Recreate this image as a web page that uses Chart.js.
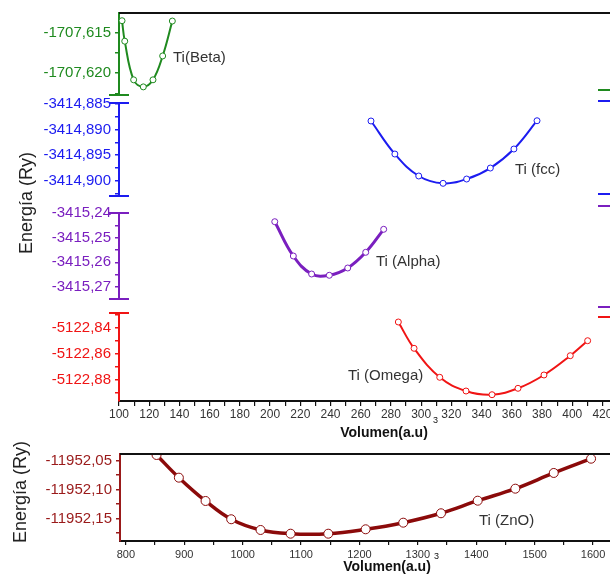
<!DOCTYPE html>
<html>
<head>
<meta charset="utf-8">
<script src="https://cdn.jsdelivr.net/npm/chart.js@4.4.1/dist/chart.umd.min.js"></script>
<style>
  html, body { margin: 0; padding: 0; background: #fff; overflow: hidden; width: 610px; height: 574px; }
  canvas { position: absolute; left: 0; top: 0; }
</style>
</head>
<body>
<canvas id="beta" width="640" height="574"></canvas>
<canvas id="fcc" width="640" height="574"></canvas>
<canvas id="alpha" width="640" height="574"></canvas>
<canvas id="omega" width="640" height="574"></canvas>
<canvas id="zno" width="640" height="574"></canvas>
<script>
// --- data ---
const betaVolume = [102.0, 103.8, 109.7, 116.1, 122.5, 128.9, 135.3];
const betaEnergy = [-1707.61355, -1707.61607, -1707.62083, -1707.62170, -1707.62083, -1707.61789, -1707.61359];

const fccVolume = [266.8, 282.6, 298.4, 314.5, 330.1, 345.8, 361.4, 376.7];
const fccEnergy = [-3414.88832, -3414.89478, -3414.89908, -3414.90051, -3414.89967, -3414.89752, -3414.89380, -3414.88827];

const alphaVolume = [203.1, 215.4, 227.5, 239.2, 251.4, 263.3, 275.2];
const alphaEnergy = [-3415.24353, -3415.25743, -3415.26473, -3415.26525, -3415.26229, -3415.25593, -3415.24661];

const omegaVolume = [284.9, 295.3, 312.3, 329.7, 346.9, 364.1, 381.3, 398.7, 410.2];
const omegaEnergy = [-5122.83538, -5122.85562, -5122.87792, -5122.88846, -5122.89131, -5122.88638, -5122.87615, -5122.86131, -5122.84977];

const znoVolume = [852.6, 890.8, 936.5, 980.4, 1030.7, 1082.1, 1146.6, 1210.6, 1275.0, 1339.6, 1402.5, 1466.9, 1532.7, 1596.6];
const znoEnergy = [-11952.0402, -11952.0793, -11952.1195, -11952.1510, -11952.1695, -11952.1759, -11952.1759, -11952.1683, -11952.1569, -11952.1407, -11952.1190, -11952.0983, -11952.0712, -11952.0466];

// tick values
const volTicks = [100, 120, 140, 160, 180, 200, 220, 240, 260, 280, 300, 320, 340, 360, 380, 400, 420];
const volMinor = [110, 130, 150, 170, 190, 210, 230, 250, 270, 290, 310, 330, 350, 370, 390, 410];
const znoVolTicks = [800, 900, 1000, 1100, 1200, 1300, 1400, 1500, 1600];
const znoVolMinor = [850, 950, 1050, 1150, 1250, 1350, 1450, 1550];

const betaTicks = [-1707.615, -1707.620];
const betaMinor = [-1707.6175, -1707.6225];
const fccTicks = [-3414.885, -3414.890, -3414.895, -3414.900];
const fccMinor = [-3414.8875, -3414.8925, -3414.8975, -3414.9025];
const alphaTicks = [-3415.24, -3415.25, -3415.26, -3415.27];
const alphaMinor = [-3415.245, -3415.255, -3415.265];
const omegaTicks = [-5122.84, -5122.86, -5122.88];
const omegaMinor = [-5122.83, -5122.85, -5122.87, -5122.89];
const znoTicks = [-11952.05, -11952.10, -11952.15];
const znoMinor = [-11952.075, -11952.125, -11952.175];

const FONT = "'Liberation Sans', Arial, sans-serif";
const W = 640, H = 574, RIGHT = 610;

function isMajor(list, v) {
  return list.some(m => Math.abs(m - v) < 1e-7);
}

function yScale(p) {
  return {
    type: 'linear',
    bounds: 'data',
    min: p.min,
    max: p.max,
    afterFit: s => { s.width = p.left; },
    afterBuildTicks: s => {
      s.ticks = p.major.concat(p.minor).sort((a, b) => a - b).map(v => ({ value: v }));
    },
    ticks: {
      color: p.color,
      font: { family: FONT, size: 15 },
      padding: 4,
      autoSkip: false,
      callback: v => isMajor(p.major, v) ? v.toFixed(p.dec).replace('.', ',') : ''
    },
    grid: { drawOnChartArea: false, color: p.color, tickLength: 4, lineWidth: 1.5 },
    border: { color: p.color, width: 2 }
  };
}

function xScale(p) {
  if (!p.show) {
    return { type: 'linear', bounds: 'data', display: false, min: p.min, max: p.max };
  }
  return {
    type: 'linear',
    bounds: 'data',
    min: p.min,
    max: p.max,
    afterFit: s => { s.height = 30; },
    afterBuildTicks: s => {
      s.ticks = p.major.concat(p.minor).sort((a, b) => a - b).map(v => ({ value: v }));
    },
    ticks: {
      color: '#333',
      font: { family: FONT, size: p.fontSize },
      padding: p.pad,
      autoSkip: false,
      maxRotation: 0,
      callback: v => isMajor(p.major, v) ? String(v) : ''
    },
    grid: { drawOnChartArea: false, color: '#111', tickLength: p.tickLength, lineWidth: 1.2 },
    border: { color: '#111', width: 2 }
  };
}

const caps = {
  id: 'caps',
  afterDraw(chart, args, o) {
    const { ctx, chartArea: a } = chart;
    ctx.save();
    ctx.lineWidth = 2;
    if (o.frameTop) {
      ctx.strokeStyle = '#111';
      ctx.beginPath();
      ctx.moveTo(a.left, a.top);
      ctx.lineTo(RIGHT, a.top);
      ctx.stroke();
    }
    if (o.frameBottom) {
      ctx.strokeStyle = '#111';
      ctx.beginPath();
      ctx.moveTo(a.left, a.bottom);
      ctx.lineTo(RIGHT, a.bottom);
      ctx.stroke();
    }
    ctx.strokeStyle = o.color || '#000';
    (o.leftCaps || []).forEach(end => {
      const y = end === 'top' ? a.top : a.bottom;
      ctx.beginPath();
      ctx.moveTo(a.left - 10, y);
      ctx.lineTo(a.left + 10, y);
      ctx.stroke();
    });
    (o.rightCaps || []).forEach(y => {
      ctx.beginPath();
      ctx.moveTo(598, y);
      ctx.lineTo(RIGHT, y);
      ctx.stroke();
    });
    (o.labels || []).forEach(l => {
      ctx.save();
      ctx.fillStyle = l.color || '#333';
      ctx.font = l.font;
      ctx.textBaseline = 'middle';
      ctx.textAlign = l.align || 'left';
      ctx.translate(l.x, l.y);
      if (l.rotate) ctx.rotate(l.rotate);
      ctx.fillText(l.text, 0, 0);
      ctx.restore();
    });
    ctx.restore();
  }
};

function panel(id, p) {
  const points = p.xs.map((x, i) => ({ x: x, y: p.ys[i] }));
  new Chart(document.getElementById(id), {
    type: 'line',
    data: {
      datasets: [{
        data: points,
        borderColor: p.lineColor || p.color,
        borderWidth: p.lineWidth,
        tension: 0.4,
        fill: false,
        pointRadius: p.pointRadius,
        pointBorderWidth: 1,
        pointBackgroundColor: '#fff',
        pointBorderColor: p.lineColor || p.color
      }]
    },
    options: {
      responsive: false,
      animation: false,
      events: [],
      layout: { padding: { left: 0, top: p.top, right: W - RIGHT, bottom: p.bottom } },
      plugins: {
        legend: { display: false },
        tooltip: { enabled: false },
        caps: p.caps
      },
      scales: { x: xScale(p.x), y: yScale(p.y) }
    },
    plugins: [caps]
  });
}

const topX = { show: false, min: 100, max: 425 };
const label15 = '15px ' + FONT;

panel('beta', {
  xs: betaVolume, ys: betaEnergy, color: '#1f8a1f', lineWidth: 2, pointRadius: 3,
  top: 13, bottom: H - 95,
  x: topX,
  y: { min: -1707.6227, max: -1707.6126, major: betaTicks, minor: betaMinor, dec: 3, color: '#1f8a1f', left: 119 },
  caps: { color: '#1f8a1f', frameTop: true, leftCaps: ['bottom'], rightCaps: [90],
    labels: [{ text: 'Ti(Beta)', x: 173, y: 58, font: label15 }] }
});

panel('fcc', {
  xs: fccVolume, ys: fccEnergy, color: '#1c1cf0', lineWidth: 2, pointRadius: 3,
  top: 103, bottom: H - 196,
  x: topX,
  y: { min: -3414.90299, max: -3414.8848, major: fccTicks, minor: fccMinor, dec: 3, color: '#1c1cf0', left: 119 },
  caps: { color: '#1c1cf0', leftCaps: ['top', 'bottom'], rightCaps: [101, 194],
    labels: [{ text: 'Ti (fcc)', x: 515, y: 170, font: label15 }] }
});

panel('alpha', {
  xs: alphaVolume, ys: alphaEnergy, color: '#7a1fbf', lineWidth: 3, pointRadius: 3,
  top: 213, bottom: H - 299,
  x: topX,
  y: { min: -3415.27486, max: -3415.24, major: alphaTicks, minor: alphaMinor, dec: 2, color: '#7a1fbf', left: 119 },
  caps: { color: '#7a1fbf', leftCaps: ['top', 'bottom'], rightCaps: [206, 307],
    labels: [{ text: 'Ti (Alpha)', x: 376, y: 262, font: label15 }] }
});

panel('omega', {
  xs: omegaVolume, ys: omegaEnergy, color: '#f01414', lineWidth: 2, pointRadius: 3,
  top: 313, bottom: H - 401 - 30,
  x: { show: true, min: 100, max: 425, major: volTicks, minor: volMinor, fontSize: 12, pad: 1, tickLength: 5 },
  y: { min: -5122.89615, max: -5122.82846, major: omegaTicks, minor: omegaMinor, dec: 2, color: '#f01414', left: 119 },
  caps: { color: '#f01414', leftCaps: ['top'], rightCaps: [317],
    labels: [
      { text: 'Ti (Omega)', x: 348, y: 376, font: label15 },
      { text: 'Volumen(a.u)', x: 384, y: 433, font: 'bold 14px ' + FONT, align: 'center', color: '#111' },
      { text: '3', x: 433, y: 421, font: '9px ' + FONT, color: '#111' },
      { text: 'Energía (Ry)', x: 27, y: 203, font: '18px ' + FONT, align: 'center', color: '#222', rotate: -Math.PI / 2 }
    ] }
});

panel('zno', {
  xs: znoVolume, ys: znoEnergy, color: '#9a1a1a', lineColor: '#8b0a0a', lineWidth: 3.5, pointRadius: 4.5,
  top: 454, bottom: H - 541 - 30,
  x: { show: true, min: 790, max: 1629, major: znoVolTicks, minor: znoVolMinor, fontSize: 11, pad: 3, tickLength: 4 },
  y: { min: -11952.1885, max: -11952.0385, major: znoTicks, minor: znoMinor, dec: 2, color: '#9a1a1a', left: 120 },
  caps: { color: '#9a1a1a', frameTop: true,
    labels: [
      { text: 'Ti (ZnO)', x: 479, y: 521, font: label15 },
      { text: 'Volumen(a.u)', x: 387, y: 567, font: 'bold 14px ' + FONT, align: 'center', color: '#111' },
      { text: '3', x: 434, y: 557, font: '9px ' + FONT, color: '#111' },
      { text: 'Energía (Ry)', x: 21, y: 492, font: '18px ' + FONT, align: 'center', color: '#222', rotate: -Math.PI / 2 }
    ] }
});
</script>
</body>
</html>
